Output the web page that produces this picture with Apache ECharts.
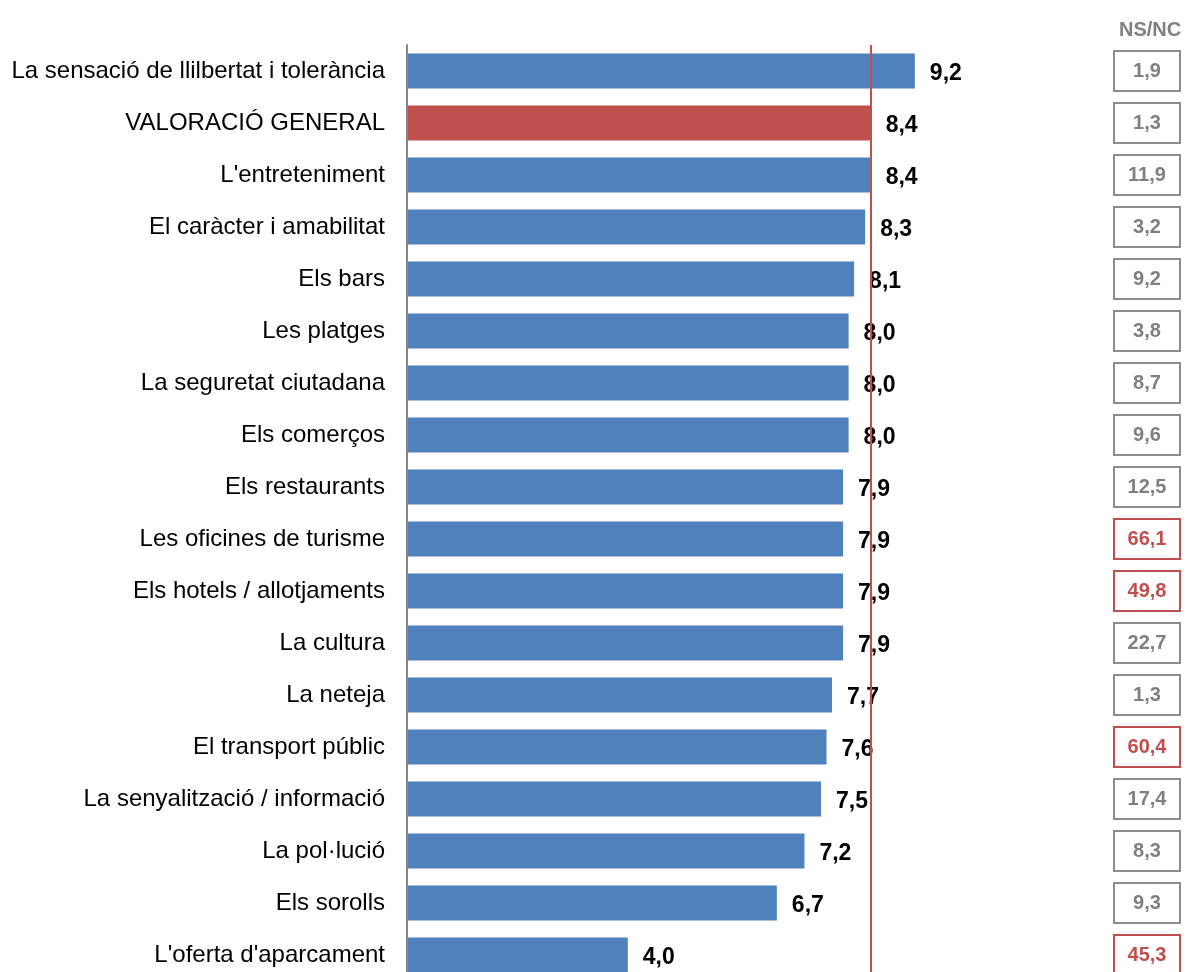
<!DOCTYPE html>
<html>
<head>
<meta charset="utf-8">
<script src="https://cdn.jsdelivr.net/npm/echarts@6/dist/echarts.min.js"></script>
<style>
  html, body { margin: 0; padding: 0; background: #fff; }
  #chart { width: 1189px; height: 972px; }
</style>
</head>
<body>
<div id="chart"></div>
<script>
// categories, top to bottom
const categories = [
  "La sensació de llilbertat i tolerància",
  "VALORACIÓ GENERAL",
  "L'entreteniment",
  "El caràcter i amabilitat",
  "Els bars",
  "Les platges",
  "La seguretat ciutadana",
  "Els comerços",
  "Els restaurants",
  "Les oficines de turisme",
  "Els hotels / allotjaments",
  "La cultura",
  "La neteja",
  "El transport públic",
  "La senyalització / informació",
  "La pol·lució",
  "Els sorolls",
  "L'oferta d'aparcament"
];
const scores = [9.2, 8.4, 8.4, 8.3, 8.1, 8.0, 8.0, 8.0, 7.9, 7.9, 7.9, 7.9, 7.7, 7.6, 7.5, 7.2, 6.7, 4.0];
const nsnc = [1.9, 1.3, 11.9, 3.2, 9.2, 3.8, 8.7, 9.6, 12.5, 66.1, 49.8, 22.7, 1.3, 60.4, 17.4, 8.3, 9.3, 45.3];
const generalIndex = 1;
const generalScore = 8.4;

const fmt = v => v.toFixed(1).replace('.', ',');

const chart = echarts.init(document.getElementById('chart'));

const barData = scores.map((v, i) => ({
  value: v,
  itemStyle: { color: i === generalIndex ? '#c0504d' : '#4f81bd' }
}));

const boxStyle = (c, t) => ({
  width: 66, height: 40, lineHeight: 40, align: 'center',
  borderColor: c, borderWidth: 2,
  color: t, fontSize: 20, fontWeight: 'bold',
  fontFamily: 'Liberation Sans, Arial'
});

chart.setOption({
  animation: false,
  title: {
    text: 'NS/NC',
    left: 1114,
    top: 15,
    textStyle: { fontFamily: 'Liberation Sans, Arial', fontSize: 20, fontWeight: 'bold', color: '#808080' }
  },
  grid: { left: 407, top: 45, width: 552, height: 936, outerBoundsMode: 'none' },
  xAxis: {
    type: 'value',
    min: 0,
    max: 10,
    show: false
  },
  yAxis: [
    {
      type: 'category',
      data: categories,
      inverse: true,
      z: 10,
      axisLine: { lineStyle: { color: '#868686', width: 2 } },
      axisTick: { show: false },
      axisLabel: {
        margin: 22,
        fontFamily: 'Liberation Sans, Arial',
        fontSize: 24,
        color: '#000'
      }
    },
    {
      type: 'category',
      data: categories,
      inverse: true,
      position: 'right',
      offset: 155,
      axisLine: { show: false },
      axisTick: { show: false },
      axisLabel: {
        margin: 0,
        formatter: (val, idx) => {
          const v = nsnc[idx];
          return (v > 40 ? '{r|' : '{g|') + fmt(v) + '}';
        },
        rich: {
          g: boxStyle('#8c8c8c', '#808080'),
          r: boxStyle('#c0504d', '#c0504d')
        }
      }
    }
  ],
  series: [
    {
      type: 'bar',
      data: barData,
      barWidth: 35,
      label: {
        show: true,
        position: 'right',
        distance: 15,
        offset: [0, 3],
        formatter: p => fmt(p.value),
        fontFamily: 'Liberation Sans, Arial',
        fontSize: 23,
        fontWeight: 'bold',
        color: '#000'
      },
      markLine: {
        silent: true,
        symbol: 'none',
        label: { show: false },
        lineStyle: { color: '#c0504d', width: 2, type: 'solid' },
        data: [{ xAxis: generalScore }]
      }
    }
  ]
});
</script>
</body>
</html>
